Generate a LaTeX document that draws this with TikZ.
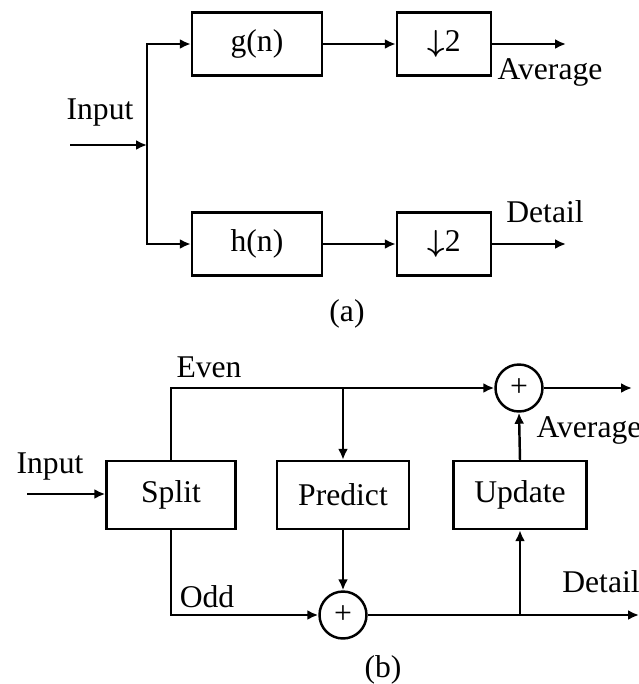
\documentclass[tikz,border=0pt]{standalone}
\usepackage{fontspec}
\setmainfont{Liberation Serif}
\usetikzlibrary{arrows.meta,positioning}
\tikzset{
        >={Latex[length=0.22cm,width=0.2cm]},
        txt/.style = {font=\fontsize{18}{21}\selectfont},
        block/.style = {draw, line width=1.4pt, txt},
        summer/.style = {draw, circle, line width=1.4pt, txt, minimum size=0.94cm, inner sep=0pt},
        wire/.style = {line width=1.4pt}
}
\newcommand{\downtwo}{{\boldmath$\downarrow$}2}
\begin{document}
\begin{tikzpicture}[x=0.02cm,y=-0.02cm]
        \useasboundingbox (0,0) rectangle (639,684);

        % (a) Filter bank
        \node[block, minimum width=2.6cm, minimum height=1.26cm] (gfilt) at (257,44) {g(n)};
        \node[block, minimum width=1.88cm, minimum height=1.26cm] (gdown) at (444,44) {\downtwo};
        \node[block, minimum width=2.6cm, minimum height=1.26cm] (hfilt) at (257,244) {h(n)};
        \node[block, minimum width=1.88cm, minimum height=1.26cm] (hdown) at (444,244) {\downtwo};
        \coordinate (inA) at (70,145);
        \coordinate (brA) at (147,145);
        \coordinate (avgA) at (566,44);
        \coordinate (detA) at (566,244);

        \draw [->,wire] (inA) -- (brA);
        \draw [->,wire] (brA) |- (gfilt.west);
        \draw [->,wire] (brA) |- (hfilt.west);
        \draw [->,wire] (gfilt) -- (gdown);
        \draw [->,wire] (hfilt) -- (hdown);
        \draw [->,wire] (gdown) -- (avgA);
        \draw [->,wire] (hdown) -- (detA);

        \node[txt] (inlblA) at (100,113) {Input};
        \node[txt] (avglblA) at (550,72) {Average};
        \node[txt] (detlblA) at (545,212) {Detail};
        \node[txt] (capA) at (347,314) {(a)};

        % (b) Lifting scheme
        \node[block, minimum width=2.58cm, minimum height=1.36cm] (split) at (171,495) {Split};
        \node[block, minimum width=2.64cm, minimum height=1.36cm] (predict) at (343,495) {Predict};
        \node[block, minimum width=2.66cm, minimum height=1.36cm] (update) at (520,495) {Update};
        \node[summer] (sumtop) at (519,388) {+};
        \node[summer] (sumbot) at (343,615) {+};
        \coordinate (inB) at (27,494);
        \coordinate (evenB) at (171,388);
        \coordinate (jevenB) at (343,388);
        \coordinate (oddB) at (171,615);
        \coordinate (jdetB) at (520,615);
        \coordinate (avgB) at (632,388);
        \coordinate (detB) at (639,615);

        \draw [->,wire] (inB) -- (split.west |- inB);
        \draw [->,wire] (split.north) -- (evenB) -- (sumtop.west);
        \draw [->,wire] (jevenB) -- (predict.north);
        \draw [->,wire] (split.south) -- (oddB) -- (sumbot.west);
        \draw [->,wire] (predict.south) -- (sumbot.north);
        \draw [->,wire] (sumbot.east) -- (detB);
        \draw [->,wire] (jdetB) -- (update.south);
        \draw [->,wire] (update.north) -- (sumtop.south);
        \draw [->,wire] (sumtop.east) -- (avgB);

        \node[txt] (inlblB) at (50,467) {Input};
        \node[txt] (evenlbl) at (209,367) {Even};
        \node[txt] (oddlbl) at (207,597) {Odd};
        \node[txt] (avglblB) at (589,430) {Average};
        \node[txt] (detlblB) at (601,582) {Detail};
        \node[txt] (capB) at (383,670) {(b)};

\end{tikzpicture}
\end{document}
